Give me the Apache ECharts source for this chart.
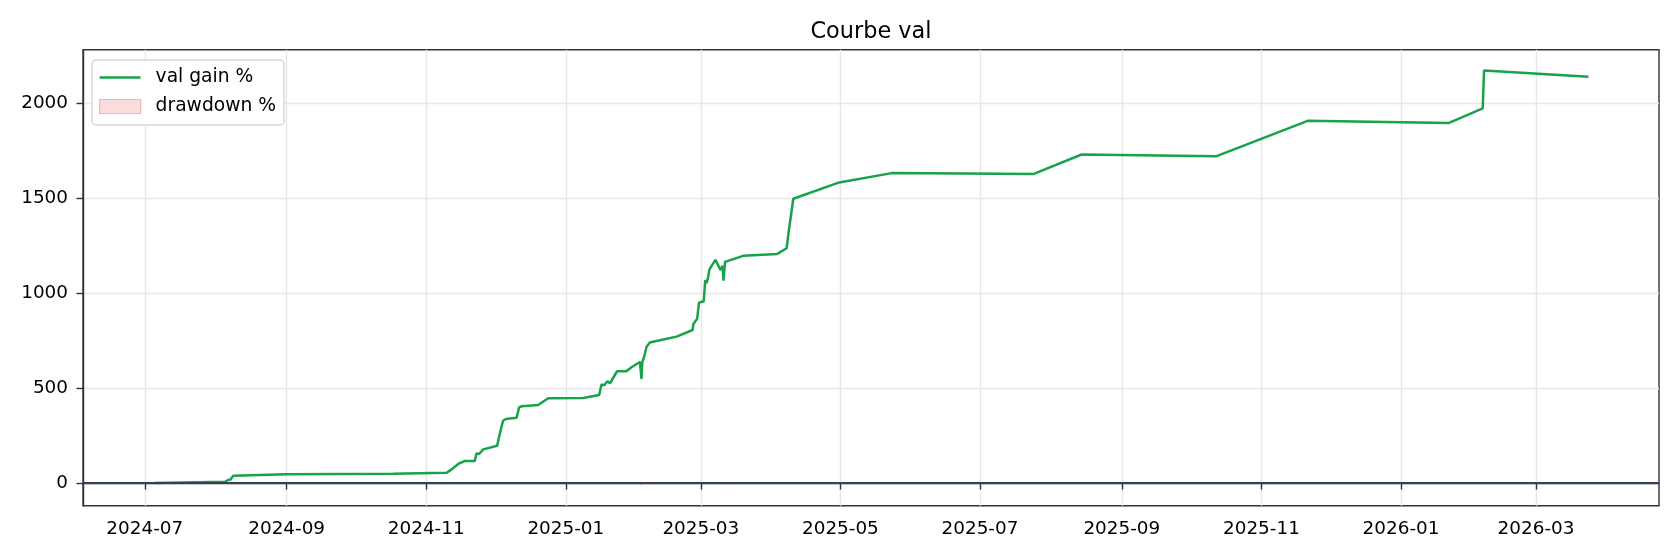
<!DOCTYPE html>
<html>
<head>
<meta charset="utf-8">
<script src="https://cdn.jsdelivr.net/npm/echarts@6/dist/echarts.min.js"></script>
<style>
html,body{margin:0;padding:0;background:#fff;}
#chart{width:1680px;height:560px;}
</style>
</head>
<body>
<div id="chart"></div>
<script>
// ---- data ----
const dates = [
  '2024-07-05','2024-08-05','2024-08-05T18','2024-08-06T10','2024-08-07T12','2024-08-08T14',
  '2024-09-01','2024-10-17T12','2024-11-09T22','2024-11-12T02','2024-11-13T12','2024-11-14T05',
  '2024-11-15T10','2024-11-17T22','2024-11-22T05','2024-11-23T00','2024-11-24T02','2024-11-25T22',
  '2024-12-02T00','2024-12-02T22','2024-12-03T22','2024-12-04T14','2024-12-05T19','2024-12-10T12',
  '2024-12-11T14','2024-12-12T17','2024-12-19T22','2024-12-24T07','2025-01-08T14','2025-01-15T14',
  '2025-01-16T14','2025-01-17T19','2025-01-19T05','2025-01-20T07','2025-01-23T10','2025-01-27T12',
  '2025-01-29T17','2025-02-02T10','2025-02-03T02','2025-02-03T10','2025-02-04T02','2025-02-05T07',
  '2025-02-06T17','2025-02-11T02','2025-02-18T10','2025-02-25T10','2025-02-25T17','2025-02-27T10',
  '2025-02-28T05','2025-03-02T07','2025-03-02T22','2025-03-03T12','2025-03-04T02','2025-03-04T17',
  '2025-03-05T17','2025-03-07T10','2025-03-09T14','2025-03-10T12','2025-03-10T22','2025-03-11T14',
  '2025-03-19T12','2025-04-03T10','2025-04-07T12','2025-04-08T10','2025-04-09T05','2025-04-10T10',
  '2025-04-30T12','2025-05-23T10','2025-07-24T07','2025-08-14T10','2025-10-12T10','2025-11-21T05',
  '2026-01-21T17','2026-02-05T17','2026-02-06T07','2026-03-23T22'
];
const valGain = [
  0,7,-2,16,19,38,
  47,49,54,72,86,79,
  104,116,116,156,153,177,
  196,247,296,328,337,344,
  398,404,411,446,447,463,
  518,514,535,525,588,588,
  609,637,547,637,658,717,
  739,751,770,805,835,865,
  949,956,1068,1051,1075,1121,
  1142,1174,1121,1142,1065,1163,
  1195,1205,1235,1323,1323,1495,
  1581,1630,1625,1728,1719,1905,
  1893,1970,2170,2137
];
const drawdown = [
  0,0,-8,0,0,0,
  0,0,0,0,0,-4,
  0,0,0,0,-1,0,
  0,0,0,0,0,0,
  0,0,0,0,0,0,
  0,-1,0,-2,0,0,
  0,0,-12,0,0,0,
  0,0,0,0,0,0,
  0,0,0,-1,0,0,
  0,0,-4,-3,-9,-1,
  0,0,0,0,0,0,
  0,0,-0.3,0,-0.5,0,
  -0.6,0,0,-1.5
];
const xTickLabels = ['2024-07','2024-09','2024-11','2025-01','2025-03','2025-05','2025-07','2025-09','2025-11','2026-01','2026-03'];
const yTickValues = [0,500,1000,1500,2000];
const titleText = 'Courbe val';
const seriesNames = ['val gain %','drawdown %'];

// ---- helpers ----
function ts(s){
  const parts = s.split('T');
  const d = parts[0].split('-').map(Number);
  const h = parts[1] ? Number(parts[1].split(':')[0]) : 0;
  return Date.UTC(d[0], (d[1]||1)-1, d[2]||1, h);
}
const xTickValues = xTickLabels.map(s => ts(s + '-01'));
const valData = dates.map((d,i) => [ts(d), valGain[i]]);
const ddData = dates.map((d,i) => [ts(d), drawdown[i]]);

const FONT = 'DejaVu Sans';
const chart = echarts.init(document.getElementById('chart'), null, {renderer:'canvas'});
chart.setOption({
  animation:false,
  backgroundColor:'#ffffff',
  title:{
    text:titleText, left:871, top:21, textAlign:'center', padding:0,
    textStyle:{fontFamily:FONT, fontSize:22.4, fontWeight:'normal', color:'#000'}
  },
  legend:{
    orient:'vertical', left:92, top:60,
    padding:[8,8,9,7],
    itemWidth:41, itemHeight:14, itemGap:10,
    backgroundColor:'#ffffff', borderColor:'#d6d6d6', borderWidth:1.4, borderRadius:4,
    textStyle:{fontFamily:FONT, fontSize:18.7, color:'#000', padding:[0,0,0,10]},
    data:[
      {name:seriesNames[0], icon:'path://M0,0L41,0L41,2.6L0,2.6Z', itemStyle:{color:'#16a34a'}},
      {name:seriesNames[1], icon:'rect', itemStyle:{color:'#fadcdc', borderColor:'#f4b4b4', borderWidth:1.2}}
    ]
  },
  grid:{left:83, right:21, top:49.7, bottom:54.3, show:true, borderColor:'#333', borderWidth:1.4, backgroundColor:'transparent'},
  xAxis:{
    type:'value', min:ts('2024-06-04'), max:ts('2026-04-23T18'),
    axisLine:{show:true, lineStyle:{color:'#333', width:1.4}},
    axisTick:{show:true, length:6.5, lineStyle:{color:'#333', width:1.4}, customValues:xTickValues},
    axisLabel:{
      fontFamily:FONT, fontSize:18.4, color:'#000', margin:15, customValues:xTickValues,
      formatter:function(v){ const i = xTickValues.indexOf(v); return i>=0 ? xTickLabels[i] : ''; }
    },
    splitLine:{show:true, lineStyle:{color:'#e7e7e7', width:1.4}}
  },
  yAxis:{
    type:'value', min:-119, max:2279,
    axisLine:{show:true, lineStyle:{color:'#333', width:1.4}},
    axisTick:{show:true, length:6.5, lineStyle:{color:'#333', width:1.4}, customValues:yTickValues},
    axisLabel:{fontFamily:FONT, fontSize:18.4, color:'#000', margin:15, customValues:yTickValues,
      formatter:function(v){ return String(v); }},
    splitLine:{show:true, lineStyle:{color:'#e7e7e7', width:1.4}}
  },
  series:[
    {
      name:seriesNames[1], type:'line', data:ddData, symbol:'none', z:1,
      lineStyle:{color:'rgba(220,38,38,0.25)', width:0.8},
      itemStyle:{color:'#fadcdc'},
      areaStyle:{color:'rgba(220,38,38,0.18)', origin:0}
    },
    {
      name:seriesNames[0], type:'line', data:valData, symbol:'none', z:3,
      lineStyle:{color:'#16a34a', width:2.5},
      itemStyle:{color:'#16a34a'},
      markLine:{
        silent:true, symbol:['none','none'], animation:false,
        label:{show:false},
        lineStyle:{color:'#334155', width:1.8, type:'solid'},
        data:[{yAxis:0}]
      }
    }
  ]
});
</script>
</body>
</html>
